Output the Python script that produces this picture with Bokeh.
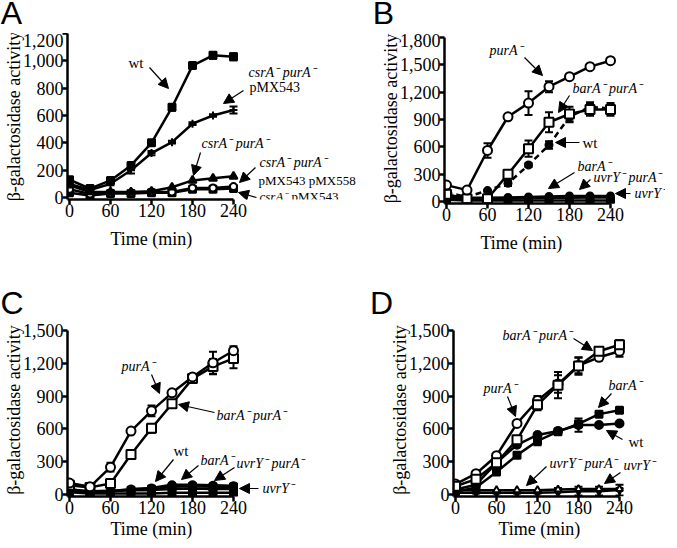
from bokeh.plotting import figure
from bokeh.models import (Range1d, FixedTicker, NumeralTickFormatter, Label, Arrow,
                          NormalHead, Whisker, TeeHead, ColumnDataSource, Title)
from bokeh.layouts import column, row
from bokeh.embed import file_html
from bokeh.resources import INLINE

# ---------------- data ----------------
time_min = [0, 30, 60, 90, 120, 150, 180, 210, 240]
x_ticks = [0, 60, 120, 180, 240]
panel_letters = ["A", "B", "C", "D"]

# Panel A
a_y_ticks = [0, 200, 400, 600, 800, 1000, 1200]
a_wt = [130, 65, 125, 235, 400, 660, 965, 1040, 1030]
a_wt_err = [20, 10, 10, 15, 20, 25, 20, 25, 25]
a_csr_pur_543 = [100, 55, 100, 200, 325, 405, 540, 600, 640]
a_csr_pur_543_err = [15, 10, 10, 25, 15, 10, 10, 10, 25]
a_csr_pur = [90, 40, 40, 40, 45, 75, 125, 140, 155]
a_csr_pur_543_558 = [60, 25, 35, 35, 40, 40, 70, 70, 80]
a_csr_543 = [35, 15, 30, 30, 35, 35, 60, 60, 65]

# Panel B
b_y_ticks = [0, 300, 600, 900, 1200, 1500, 1800]
b_purA = [180, 125, 560, 930, 1080, 1260, 1370, 1480, 1545]
b_purA_err = [15, 10, 80, 30, 130, 60, 20, 15, 25]
b_barA_purA = [80, 30, 30, 300, 580, 870, 960, 1010, 1010]
b_barA_purA_err = [10, 5, 5, 30, 90, 110, 80, 70, 70]
b_wt = [100, 50, 120, 200, 400, 620, 930, 1040, 1020]
b_wt_err = [10, 5, 10, 30, 20, 40, 60, 50, 40]
b_barA = [40, 30, 30, 30, 35, 40, 40, 45, 45]
b_uvrY_purA = [60, 40, 40, 45, 50, 55, 60, 60, 60]
b_uvrY = [20, 10, 10, 10, 10, 10, 10, 10, 10]

# Panel C
c_y_ticks = [0, 300, 600, 900, 1200, 1500]
c_purA = [105, 70, 250, 580, 765, 930, 1075, 1205, 1315]
c_purA_err = [15, 10, 40, 20, 50, 15, 20, 100, 40]
c_barA_purA = [85, 65, 100, 365, 605, 830, 1060, 1170, 1245]
c_barA_purA_err = [10, 10, 10, 15, 40, 15, 20, 70, 90]
c_wt = [40, 15, 30, 50, 60, 90, 90, 85, 80]
c_barA = [50, 20, 30, 40, 50, 70, 75, 70, 70]
c_uvrY_purA = [45, 30, 35, 40, 40, 50, 55, 50, 50]
c_uvrY = [20, 10, 10, 10, 10, 15, 15, 15, 15]

# Panel D
d_y_ticks = [0, 300, 600, 900, 1200, 1500]
d_barA_purA = [75, 140, 290, 500, 820, 1000, 1175, 1310, 1370]
d_barA_purA_err = [10, 10, 20, 30, 50, 120, 80, 40, 40]
d_purA = [95, 190, 355, 650, 860, 1010, 1180, 1255, 1310]
d_purA_err = [10, 10, 10, 10, 40, 80, 70, 30, 50]
d_barA = [25, 65, 205, 360, 490, 575, 645, 735, 770]
d_barA_err = [5, 5, 10, 10, 40, 10, 20, 10, 10]
d_wt = [45, 90, 290, 455, 545, 580, 635, 635, 650]
d_wt_err = [5, 5, 10, 10, 10, 10, 60, 10, 10]
d_uvrY_purA = [40, 40, 40, 40, 40, 45, 50, 50, 50]
d_uvrY = [15, 15, 15, 15, 15, 20, 30, 30, 40]
d_uvrY_err = [5, 5, 5, 5, 5, 40, 40, 40, 50]

SERIF = "Liberation Serif"
SANS = "Liberation Sans"
M = "\u207b"  # superscript minus

S = 164   # px spanned by 0..240 and 0..ymax
PADX = 2
PADY = 2
SPLIT = 368  # page x where the right-hand column begins


def make_panel(g, yticks):
    fl = g["X0"] - PADX
    fb = g["Y0"] + PADY
    x0 = -PADX * 240 / S
    x1 = (g["FR"] - g["X0"]) * 240 / S
    y0 = -PADY * g["ymax"] / S
    y1 = (g["Y0"] - g["FT"]) * g["ymax"] / S
    p = figure(frame_width=g["FR"] - fl, frame_height=fb - g["FT"], title=None,
               x_range=Range1d(x0, x1), y_range=Range1d(y0, y1),
               output_backend="svg", toolbar_location=None,
               min_border_left=fl - g["CL"], min_border_right=0,
               min_border_top=0, min_border_bottom=g["CB"] - fb)
    p.outline_line_color = None
    p.grid.visible = False
    p.background_fill_color = "white"
    p.border_fill_color = "white"
    for ax in (p.xaxis[0], p.yaxis[0]):
        ax.axis_line_width = 2.5
        ax.major_tick_line_width = 2.5
        ax.major_tick_out = 5
        ax.major_tick_in = 0
        ax.minor_tick_line_color = None
        ax.major_label_text_font = SERIF
        ax.major_label_text_font_size = "18px"
        ax.major_label_text_color = "black"
        ax.major_label_standoff = -1
    p.xaxis.ticker = FixedTicker(ticks=x_ticks)
    p.yaxis.ticker = FixedTicker(ticks=yticks)
    p.yaxis.formatter = NumeralTickFormatter(format="0,0")
    p.xaxis.bounds = (x0, 240)
    p.yaxis.bounds = (y0, g["ymax"])
    p.yaxis.axis_label = "\u03b2-galactosidase activity"
    p.yaxis.axis_label_text_font = SERIF
    p.yaxis.axis_label_text_font_size = "18px"
    p.yaxis.axis_label_text_font_style = "normal"
    p.yaxis.axis_label_text_color = "black"
    p.yaxis.axis_label_standoff = -4
    p.add_layout(Title(text="Time (min)", align="left", offset=g["xlab_left"] - fl,
                       vertical_align="bottom", standoff=g["xlab_standoff"],
                       text_font=SERIF, text_font_size="18px", text_font_style="normal",
                       text_color="black"), "below")
    return p


def dx(g, px):
    return (px - g["X0"]) * 240 / S


def dy(g, py):
    return (g["Y0"] - py) * g["ymax"] / S


def series(p, y, marker, filled, err=None, dash="solid", size=8):
    p.line(time_min, y, line_width=2.5, line_color="black", line_dash=dash)
    if err is not None:
        src = ColumnDataSource(dict(base=time_min,
                                    upper=[v + e for v, e in zip(y, err)],
                                    lower=[v - e for v, e in zip(y, err)]))
        p.add_layout(Whisker(source=src, base="base", upper="upper", lower="lower",
                             line_width=2, line_color="black",
                             upper_head=TeeHead(size=8, line_width=2),
                             lower_head=TeeHead(size=8, line_width=2)))
    p.scatter(time_min, y, marker=marker, size=size, line_color="black", line_width=2,
              fill_color="black" if filled else "white")


def text(p, g, px, py, s, italic=True, size=14, align="left"):
    p.add_layout(Label(x=dx(g, px), y=dy(g, py), text=s, text_font=SERIF,
                       text_font_size=f"{size}px",
                       text_font_style="italic" if italic else "normal",
                       text_align=align, text_baseline="middle", text_color="black"))


def arrow(p, g, x1, y1, x2, y2):
    p.add_layout(Arrow(end=NormalHead(size=10, fill_color="black", line_color="black", line_width=1),
                       x_start=dx(g, x1), y_start=dy(g, y1), x_end=dx(g, x2), y_end=dy(g, y2),
                       line_width=1.2, line_color="black"))


def header(height, standoff, letters):
    # the panel letters are drawn as the tick labels of an invisible axis
    h = figure(frame_width=661, frame_height=1, title=None, x_range=Range1d(8, 669),
               y_range=Range1d(0, 1), output_backend="svg", toolbar_location=None,
               y_axis_location=None, min_border=0,
               min_border_left=0, min_border_right=0, min_border_top=0,
               min_border_bottom=height - 1)
    h.outline_line_color = None
    h.grid.visible = False
    ax = h.xaxis[0]
    ax.ticker = FixedTicker(ticks=[c for _, c in letters])
    ax.major_label_overrides = {c: ch for ch, c in letters}
    ax.axis_line_color = None
    ax.major_tick_line_color = None
    ax.minor_tick_line_color = None
    ax.major_tick_out = 0
    ax.major_tick_in = 0
    ax.major_label_standoff = standoff
    ax.major_label_text_font = SANS
    ax.major_label_text_font_size = "32px"
    ax.major_label_text_color = "black"
    return h


# page geometry (px): origin X0/Y0, frame top FT, frame right FR, canvas left CL, canvas bottom CB
gA = dict(X0=73, Y0=202, ymax=1200, FT=38, FR=SPLIT, CL=8, CB=290, xlab_left=114, xlab_standoff=15)
gB = dict(X0=450, Y0=206, ymax=1800, FT=38, FR=669, CL=SPLIT, CB=290, xlab_left=484, xlab_standoff=15)
gC = dict(X0=73, Y0=496, ymax=1500, FT=325, FR=SPLIT, CL=8, CB=540, xlab_left=114, xlab_standoff=1)
gD = dict(X0=459, Y0=496, ymax=1500, FT=325, FR=669, CL=SPLIT, CB=540, xlab_left=502, xlab_standoff=1)

# ---- Panel A ----
pA = make_panel(gA, a_y_ticks)
series(pA, a_csr_543, "square", True, size=7)
series(pA, a_csr_pur_543_558, "circle", False, size=7)
series(pA, a_csr_pur, "triangle", True, size=8)
series(pA, a_csr_pur_543, "cross", True, a_csr_pur_543_err, size=8)
series(pA, a_wt, "square", True, a_wt_err, size=7)
text(pA, gA, 132, 67, "wt", italic=False, size=15)
arrow(pA, gA, 153, 72, 172, 93)
text(pA, gA, 252, 77, "csrA" + M + " purA" + M)
text(pA, gA, 253, 92, "pMX543", italic=False)
arrow(pA, gA, 247, 95, 227, 108)
text(pA, gA, 205, 148, "csrA" + M + " purA" + M)
arrow(pA, gA, 204, 157, 197, 180)
text(pA, gA, 263, 167, "csrA" + M + " purA" + M)
text(pA, gA, 262, 185, "pMX543 pMX558", italic=False, size=13)
arrow(pA, gA, 259, 172, 243, 187)
text(pA, gA, 263, 201, "csrA" + M, size=13)
text(pA, gA, 295, 201, "pMX543", italic=False, size=13)
arrow(pA, gA, 260, 202, 242, 197)

# ---- Panel B ----
pB = make_panel(gB, b_y_ticks)
series(pB, b_uvrY, "square", True, size=7)
series(pB, b_barA, "triangle", False, size=7)
series(pB, b_uvrY_purA, "circle", True, size=7)
series(pB, b_wt, "circle", True, b_wt_err, dash="6 4", size=7)
series(pB, b_barA_purA, "square", False, b_barA_purA_err, size=9)
series(pB, b_purA, "circle", False, b_purA_err, size=9)
text(pB, gB, 493, 55, "purA" + M)
arrow(pB, gB, 528, 62, 546, 80)
text(pB, gB, 576, 93, "barA" + M + " purA" + M)
arrow(pB, gB, 573, 100, 562, 117)
text(pB, gB, 586, 147, "wt", italic=False, size=15)
arrow(pB, gB, 583, 147, 559, 147)
text(pB, gB, 581, 171, "barA" + M)
arrow(pB, gB, 578, 177, 552, 193)
text(pB, gB, 597, 182, "uvrY" + M + " purA" + M)
arrow(pB, gB, 594, 184, 583, 194)
text(pB, gB, 638, 198, "uvrY" + M)
arrow(pB, gB, 634, 198, 619, 198)

# ---- Panel C ----
pC = make_panel(gC, c_y_ticks)
series(pC, c_uvrY, "square", True, size=7)
series(pC, c_uvrY_purA, "triangle", False, size=7)
series(pC, c_barA, "square", True, size=7)
series(pC, c_wt, "circle", True, size=7)
series(pC, c_barA_purA, "square", False, c_barA_purA_err, size=9)
series(pC, c_purA, "circle", False, c_purA_err, size=9)
text(pC, gC, 125, 368, "purA" + M)
arrow(pC, gC, 155, 376, 163, 395)
text(pC, gC, 220, 417, "barA" + M + " purA" + M)
arrow(pC, gC, 218, 414, 182, 406)
text(pC, gC, 177, 452, "wt", italic=False, size=15)
arrow(pC, gC, 177, 461, 159, 483)
text(pC, gC, 204, 462, "barA" + M)
arrow(pC, gC, 202, 467, 185, 481)
text(pC, gC, 240, 465, "uvrY" + M + " purA" + M)
arrow(pC, gC, 238, 469, 218, 482)
text(pC, gC, 266, 490, "uvrY" + M)
arrow(pC, gC, 262, 490, 243, 490)

# ---- Panel D ----
pD = make_panel(gD, d_y_ticks)
series(pD, d_uvrY, "inverted_triangle", True, d_uvrY_err, size=7)
series(pD, d_uvrY_purA, "triangle", False, size=7)
series(pD, d_wt, "circle", True, d_wt_err, size=8)
series(pD, d_barA, "square", True, d_barA_err, size=7)
series(pD, d_purA, "circle", False, d_purA_err, size=9)
series(pD, d_barA_purA, "square", False, d_barA_purA_err, size=9)
text(pD, gD, 506, 337, "barA" + M + " purA" + M)
arrow(pD, gD, 577, 340, 596, 352)
text(pD, gD, 487, 390, "purA" + M)
arrow(pD, gD, 511, 398, 519, 418)
text(pD, gD, 612, 387, "barA" + M)
arrow(pD, gD, 615, 395, 602, 409)
text(pD, gD, 632, 443, "wt", italic=False, size=15)
arrow(pD, gD, 626, 441, 610, 432)
text(pD, gD, 553, 465, "uvrY" + M + " purA" + M)
arrow(pD, gD, 550, 468, 530, 487)
text(pD, gD, 627, 467, "uvrY" + M)
arrow(pD, gD, 624, 474, 608, 485)

head1 = header(30, -7, [(panel_letters[0], 19), (panel_letters[1], 391)])
head2 = header(35, -2, [(panel_letters[2], 19), (panel_letters[3], 389)])

layout = column(head1, row(pA, pB), head2, row(pC, pD))
open("out.html", "w").write(file_html(layout, INLINE))
